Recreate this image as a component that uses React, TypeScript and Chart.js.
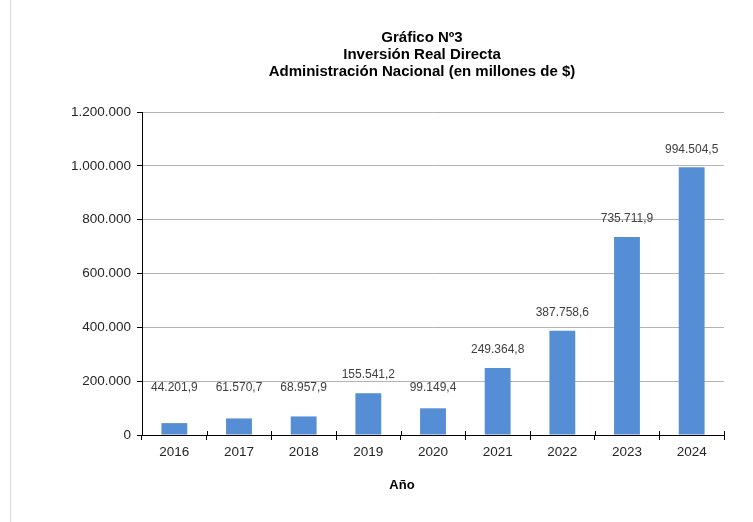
import { useEffect, useRef } from "react";
import { Chart, registerables } from "chart.js";

Chart.register(...registerables);

const titleLines = [
  "Gráfico Nº3",
  "Inversión Real Directa",
  "Administración Nacional (en millones de $)",
];
const categories = ["2016", "2017", "2018", "2019", "2020", "2021", "2022", "2023", "2024"];
const values = [44201.9, 61570.7, 68957.9, 155541.2, 99149.4, 249364.8, 387758.6, 735711.9, 994504.5];
const yMin = 0;
const yMax = 1200000;
const yStep = 200000;
const xAxisTitle = "Año";

const FONT = "'Liberation Sans', Arial, sans-serif";

function fmt(v: number, decimals: number): string {
  const fixed = v.toFixed(decimals);
  const [i, d] = fixed.split(".");
  const ii = i.replace(/\B(?=(\d{3})+(?!\d))/g, ".");
  return d ? ii + "," + d : ii;
}

const decorPlugin = {
  id: "decor",
  afterDraw(chart: any) {
    const ctx = chart.ctx as CanvasRenderingContext2D;
    const { chartArea } = chart;
    ctx.save();
    // left frame line
    ctx.strokeStyle = "#d9d9d9";
    ctx.lineWidth = 1;
    ctx.beginPath();
    ctx.moveTo(10.5, 0);
    ctx.lineTo(10.5, chart.height);
    ctx.stroke();

    // inner half of cross ticks on x axis
    const xScale = chart.scales.x;
    ctx.strokeStyle = "#000";
    ctx.beginPath();
    const n = categories.length;
    for (let i = 0; i <= n; i++) {
      const px = Math.round(xScale.getPixelForValue(i - 0.5)) + 0.5;
      ctx.moveTo(px, chartArea.bottom - 4);
      ctx.lineTo(px, chartArea.bottom);
    }
    ctx.stroke();

    // title
    ctx.fillStyle = "#000";
    ctx.font = `bold 15px ${FONT}`;
    ctx.textAlign = "center";
    ctx.textBaseline = "middle";
    titleLines.forEach((t, i) => ctx.fillText(t, 422, 38 + i * 17));

    // x axis title
    ctx.font = `bold 13px ${FONT}`;
    ctx.fillText(xAxisTitle, 402, 485);

    // data labels
    const meta = chart.getDatasetMeta(0);
    const yScale = chart.scales.y;
    const floorY = yScale.getPixelForValue(175000);
    ctx.font = `12px ${FONT}`;
    ctx.fillStyle = "#404040";
    meta.data.forEach((bar: any, i: number) => {
      const y = Math.min(bar.y - 18, floorY);
      ctx.fillText(fmt(values[i], 1), bar.x, y);
    });
    ctx.restore();
  },
};

export default function App() {
  const ref = useRef<HTMLCanvasElement | null>(null);
  useEffect(() => {
    if (!ref.current) return;
    const chart = new Chart(ref.current, {
      type: "bar",
      data: {
        labels: categories,
        datasets: [
          {
            data: values,
            backgroundColor: "#558ed5",
            borderWidth: 0,
            barPercentage: 0.4,
            categoryPercentage: 1,
          },
        ],
      },
      options: {
        responsive: false,
        animation: false,
        devicePixelRatio: 1,
        layout: { padding: { top: 112, right: 29, left: 0, bottom: 0 } },
        plugins: { legend: { display: false }, title: { display: false }, tooltip: { enabled: false } },
        scales: {
          y: {
            min: yMin,
            max: yMax,
            ticks: {
              stepSize: yStep,
              callback: (v: any) => fmt(Number(v), 0),
              font: { size: 13.5, family: FONT },
              color: "#262626",
              padding: 6,
            },
            grid: { color: "#b3b3b3", tickColor: "#000", tickLength: 5, lineWidth: 1 },
            border: { color: "#000", width: 1 },
            afterFit: (s: any) => {
              s.width = 142;
            },
          },
          x: {
            ticks: { font: { size: 13.5, family: FONT }, color: "#262626", padding: 4 },
            grid: { drawOnChartArea: false, offset: true, tickColor: "#000", tickLength: 5 },
            border: { color: "#000", width: 1 },
            afterFit: (s: any) => {
              s.height = 87;
            },
          },
        },
      },
      plugins: [decorPlugin],
    });
    return () => chart.destroy();
  }, []);
  return (
    <div style={{ position: "absolute", left: 0, top: 0, width: 753, height: 522, background: "#fff" }}>
      <canvas ref={ref} width={753} height={522} />
    </div>
  );
}
